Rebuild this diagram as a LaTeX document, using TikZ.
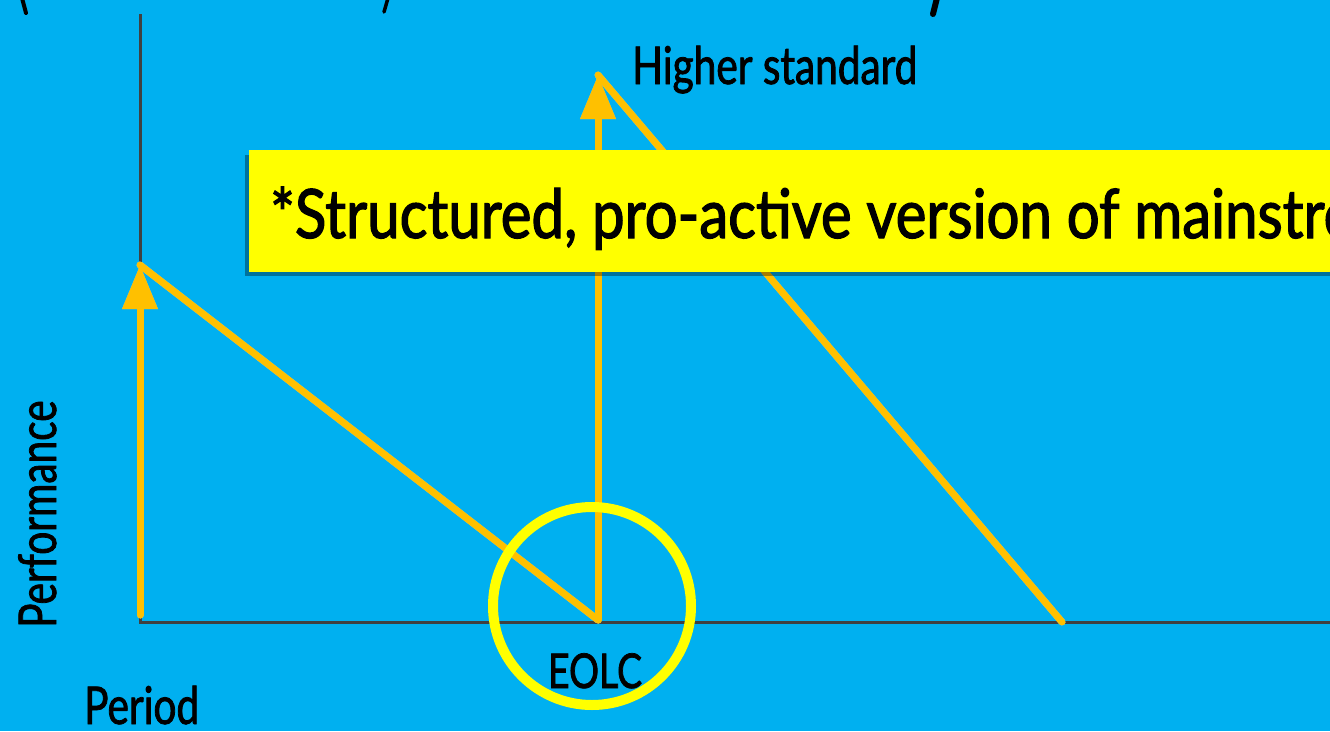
\documentclass[tikz,border=0pt]{standalone}
\usepackage{fontspec}
\setmainfont{Lato}[FakeStretch=0.78,FakeBold=1.5]
\newfontfamily\bigfont{Lato}[FakeStretch=0.855,FakeBold=1.8]
\usetikzlibrary{arrows.meta}
\definecolor{bgblue}{HTML}{00B0F0}
\definecolor{orng}{HTML}{FFC000}
\definecolor{ylw}{HTML}{FFFF00}
\definecolor{axisgrey}{HTML}{404040}
\definecolor{shadowblue}{HTML}{7CC6E6}
\tikzset{
  perfline/.style={orng, line width=7pt, line cap=round},
  perfshadow/.style={shadowblue, line width=7pt, line cap=round, xshift=3pt, yshift=-1pt},
  perfarrow/.style={-{Triangle[width=34pt,length=44pt]}},
  axisline/.style={axisgrey, line width=3pt},
  axisshadow/.style={shadowblue, line width=3pt, xshift=2pt, yshift=-2pt},
  lbl/.style={font=\fontsize{52}{56}\selectfont, text=black, inner sep=0pt},
  frag/.style={black, line cap=round}
}
\begin{document}
\begin{tikzpicture}[x=1pt,y=-1pt]
\useasboundingbox (0,0) rectangle (1330,731);
\fill[bgblue] (0,0) rectangle (1330,731);
% fragments of cut-off title
\draw[frag, line width=4pt] (22,-2) -- (26,13);
\draw[frag, line width=3.5pt] (388,-2) -- (384,12);
\draw[frag, line width=6pt] (937,-2) -- (933,14);
% axes
\coordinate (o) at (140,622);
\coordinate (ytop) at (140,14);
\coordinate (xend) at (1335,622);
\draw[axisshadow] (ytop) -- (o) -- (xend);
\draw[axisline] (ytop) -- (o) -- (xend);
% performance lines
\coordinate (a0) at (140,615);
\coordinate (a1) at (140,265);
\coordinate (eolc) at (598,620);
\coordinate (b1) at (598,75);
\coordinate (c0) at (1062,622);
\draw[perfshadow, perfarrow] (a0) -- (a1);
\draw[perfshadow] (a1) -- (eolc);
\draw[perfshadow, perfarrow] (eolc) -- (b1);
\draw[perfshadow] (b1) -- (c0);
\draw[perfline, perfarrow] (a0) -- (a1);
\draw[perfline] (a1) -- (eolc);
\draw[perfline, perfarrow] (eolc) -- (b1);
\draw[perfline] (b1) -- (c0);
% circle
\draw[ylw, line width=10pt] (592,606) circle[radius=99];
% labels
\node[lbl, anchor=base west] (hs) at (632,84) {Higher standard};
\node[lbl, font=\fontsize{48}{52}\selectfont, anchor=base] (eo) at (595,688) {EOLC};
\node[lbl, anchor=base west, rotate=90] (pf) at (56,628) {Performance};
\node[lbl, anchor=base west] (pd) at (84,724) {Period};
% yellow box
\fill[black, opacity=0.35] (245,155) rectangle (1340,276);
\fill[ylw] (249,150) rectangle (1340,272);
\node[lbl, font=\bigfont\fontsize{68}{72}\selectfont, anchor=base west] (note) at (270,238) {*Structured, pro-active version of mainstre};
\end{tikzpicture}
\end{document}
